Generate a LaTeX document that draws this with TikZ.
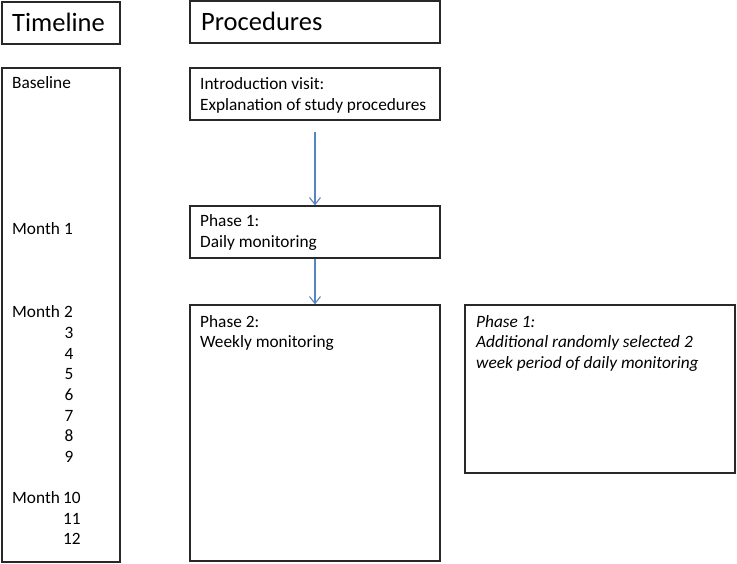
\documentclass[tikz,border=0pt]{standalone}
\usepackage{fontspec}
\setmainfont{Carlito}
\usetikzlibrary{arrows.meta}
\definecolor{arrowblue}{RGB}{88,132,196}
\definecolor{boxline}{RGB}{40,40,40}
\begin{document}
\begin{tikzpicture}[x=1pt,y=-1pt,
  box/.style={draw=boxline,line width=1.2pt,rectangle,inner sep=0pt},
  txt/.style={anchor=base west,inner sep=0pt,font=\fontsize{17.3}{20.5}\selectfont},
  itxt/.style={txt,font=\fontsize{17.3}{20.5}\selectfont\itshape},
  head/.style={anchor=base west,inner sep=0pt,font=\fontsize{26.5}{30}\selectfont},
  flow/.style={draw=arrowblue,line width=1.1pt,-{Straight Barb[length=7pt,width=11pt,line width=1.1pt]}}]
\useasboundingbox (0,0) rectangle (737,564);
% boxes
\node[box,minimum width=118pt,minimum height=42pt] (tlhead) at (61,23) {};
\node[box,minimum width=250pt,minimum height=42pt] (prhead) at (315,22) {};
\node[box,minimum width=118pt,minimum height=494pt] (tl) at (61,315) {};
\node[box,minimum width=250pt,minimum height=52pt] (intro) at (315,94) {};
\node[box,minimum width=250pt,minimum height=52pt] (p1) at (315,232) {};
\node[box,minimum width=250pt,minimum height=256pt] (p2) at (315,433) {};
\node[box,minimum width=270pt,minimum height=168pt] (extra) at (600,389) {};
% headings
\node[head] (tltxt) at (12,32) {Timeline};
\node[head] (prtxt) at (201,31) {Procedures};
% timeline texts
\node[txt] (bl) at (12,89) {Baseline};
\node[txt] (m1) at (12,235) {\makebox[52pt][l]{Month}1};
\node[txt] (m2) at (12,318) {\makebox[52pt][l]{Month}2};
\foreach \n [count=\i] in {3,4,5,6,7,8,9}
  \node[txt] (m\n) at (64.5,{318+20.6*\i}) {\n};
\node[txt] (m10) at (12,503.4) {\makebox[51pt][l]{Month}10};
\node[txt] (m11) at (63,524) {11};
\node[txt] (m12) at (63,544.6) {12};
% procedure texts
\node[txt] (intro1) at (200,90) {Introduction visit:};
\node[txt] (intro2) at (200,110.5) {Explanation of study procedures};
\node[txt] (p1a) at (200,227) {Phase 1:};
\node[txt] (p1b) at (200,247.5) {Daily monitoring};
\node[txt] (p2a) at (200,327) {Phase 2:};
\node[txt] (p2b) at (200,347.5) {Weekly monitoring};
\node[itxt] (ea) at (476,327) {Phase 1:};
\node[itxt] (eb) at (476,347.5) {Additional randomly selected 2};
\node[itxt] (ec) at (476,368) {week period of daily monitoring};
% arrows
\draw[flow] ([yshift=-11pt]intro.south) -- (p1.north);
\draw[flow] (p1.south) -- (p2.north);
\end{tikzpicture}
\end{document}
